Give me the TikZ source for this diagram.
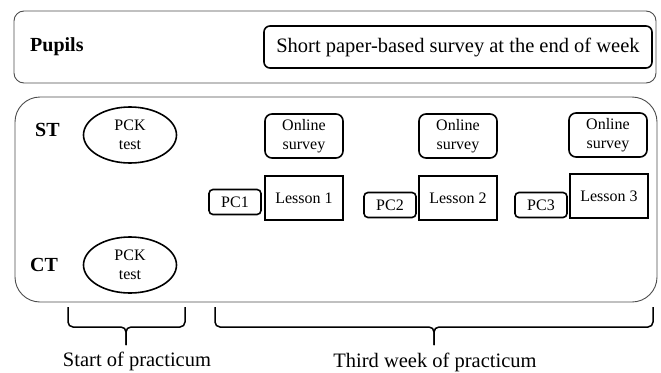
\documentclass[tikz,border=0pt]{standalone}
\usepackage{fontspec}
\setmainfont{Liberation Serif}
\usetikzlibrary{shapes.geometric,positioning}

\begin{document}
\begin{tikzpicture}[x=1pt,y=-1pt,
		panel/.style={draw=black!70,line width=0.9pt,rounded corners=#1},
		who/.style={font=\fontsize{20}{22}\selectfont\bfseries,inner sep=0pt},
		big/.style={font=\fontsize{20.5}{22}\selectfont,inner sep=0pt},
		small/.style={font=\fontsize{16}{19}\selectfont,align=center,inner sep=0pt},
		thick box/.style={small,draw,line width=1.6pt},
		survey/.style={thick box,rounded corners=7pt,minimum width=78pt,minimum height=44pt},
		lesson/.style={thick box,minimum width=78pt,minimum height=44pt},
		pc/.style={thick box,rounded corners=4pt,minimum width=52pt,minimum height=25pt},
		pck/.style={thick box,ellipse,minimum width=93pt,minimum height=56pt},
		bracket/.style={line width=1.5pt,rounded corners=5pt}]
	\useasboundingbox (0,0) rectangle (661,372);
	\draw[panel=10pt] (14,11) rectangle (656,83);
	\draw[panel=25pt] (15,97) rectangle (657,302);
	\node[who,anchor=west] (pupils) at (30,47) {Pupils};
	\node[big,draw,line width=1.6pt,rounded corners=6pt,minimum width=388pt,minimum height=42pt] (paper) at (458,47) {Short paper-based survey at the end of week};
	\node[who,anchor=west] (st) at (35,130) {ST};
	\node[who,anchor=west] (ct) at (30,265) {CT};
	\node[pck] (pckST) at (130,135) {PCK\\test};
	\node[pck] (pckCT) at (130,265) {PCK\\test};
	\node[survey] (online1) at (304,136) {Online\\survey};
	\node[survey] (online2) at (458,136) {Online\\survey};
	\node[survey] (online3) at (608,135) {Online\\survey};
	\node[lesson] (lesson1) at (304,198) {Lesson 1};
	\node[lesson] (lesson2) at (458,198) {Lesson 2};
	\node[lesson] (lesson3) at (609,196) {Lesson 3};
	\node[pc] (pc1) at (235,202) {PC1};
	\node[pc] (pc2) at (390,205) {PC2};
	\node[pc] (pc3) at (541,205) {PC3};
	\draw[bracket] (68,307) |- (126,327) -- (126,345) coordinate (startTip);
	\draw[bracket] (185,307) |- (126,327) -- (startTip);
	\draw[bracket] (215,307) |- (434,327) -- (434,345) coordinate (thirdTip);
	\draw[bracket] (653,307) |- (434,327) -- (thirdTip);
	\node[big] (startText) at (137,361) {Start of practicum};
	\node[big] (thirdText) at (435,362) {Third week of practicum};
\end{tikzpicture}
\end{document}
